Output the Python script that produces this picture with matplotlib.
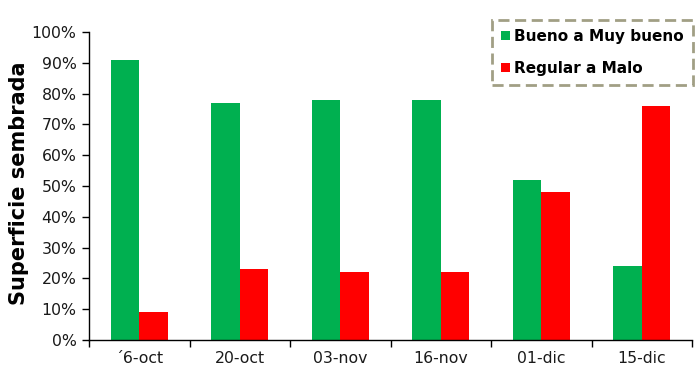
import matplotlib
matplotlib.use("Agg")
import matplotlib.pyplot as plt
import numpy as np
from matplotlib.ticker import FuncFormatter, FixedLocator
from matplotlib.patches import Patch

categories = ["´6-oct", "20-oct", "03-nov", "16-nov", "01-dic", "15-dic"]
bueno = [91, 77, 78, 78, 52, 24]
regular = [9, 23, 22, 22, 48, 76]
series_names = ["Bueno a Muy bueno", "Regular a Malo"]

green = "#00B050"
red = "#FF0000"

plt.rcParams['font.family'] = ['DejaVu Sans']

fig = plt.figure(figsize=(6.97, 3.81), dpi=100)
ax = fig.add_axes([89/697, 41/381, 603/697, 308/381])

x = np.arange(len(categories))
w = 0.285
ax.bar(x - w/2, bueno, width=w, color=green, linewidth=0)
ax.bar(x + w/2, regular, width=w, color=red, linewidth=0)

ax.set_xlim(-0.5, len(categories) - 0.5)
ax.set_ylim(0, 100)
ax.set_yticks(np.arange(0, 101, 10))
ax.yaxis.set_major_formatter(FuncFormatter(lambda v, p: f"{int(v)}%"))
ax.set_xticks(x)
ax.set_xticklabels(categories)
ax.xaxis.set_minor_locator(FixedLocator(np.arange(-0.5, len(categories), 1)))
ax.tick_params(axis='x', which='major', length=0, pad=8, labelsize=11.3, colors='#1a1a1a')
ax.tick_params(axis='x', which='minor', length=5, width=1, direction='out')
ax.tick_params(axis='y', length=5, width=1, direction='out', labelsize=11.3, pad=4, colors='#1a1a1a')
ax.tick_params(axis='y', color='black')
for s in ['top', 'right']:
    ax.spines[s].set_visible(False)
for s in ['left', 'bottom']:
    ax.spines[s].set_color('black')
    ax.spines[s].set_linewidth(1)

ax.set_ylabel("Superficie sembrada", fontsize=15, fontweight='bold', labelpad=4)
ax.yaxis.set_label_coords(-0.099, 0.51)

handles = [Patch(facecolor=green, edgecolor='none'), Patch(facecolor=red, edgecolor='none')]
leg = ax.legend(handles, series_names, loc='upper right', bbox_to_anchor=(1.002, 1.04),
                frameon=True, fancybox=False, handlelength=0.55, handleheight=0.55,
                handletextpad=0.3, labelspacing=1.1, borderpad=0.6, borderaxespad=0,
                prop={'weight': 'bold', 'size': 11})
fr = leg.get_frame()
fr.set_edgecolor('#8a8766')
fr.set_linestyle((0, (4, 2)))
fr.set_linewidth(2)

fig.savefig("out.png", dpi=100)
